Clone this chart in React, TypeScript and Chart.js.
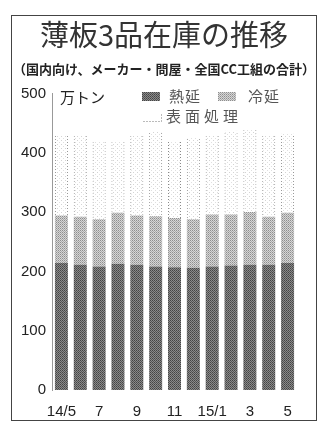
import React, { useEffect, useRef } from "react";
import { Chart, registerables } from "chart.js";

Chart.register(...registerables);

// ---- data ----
const categories = ["14/5", "6", "7", "8", "9", "10", "11", "12", "15/1", "2", "3", "4", "5"];
const xTickLabels = ["14/5", "", "7", "", "9", "", "11", "", "15/1", "", "3", "", "5"];
const hotRolled = [214, 211, 208, 213, 211, 208, 207, 206, 208, 210, 211, 211, 214];
const coldRolled = [80, 81, 80, 86, 83, 85, 83, 82, 88, 86, 89, 81, 85];
const surfaceTreated = [134, 138, 130, 121, 136, 142, 130, 137, 134, 141, 140, 138, 133];
const yTickValues = [0, 100, 200, 300, 400, 500];
const seriesNames = ["熱延", "冷延", "表面処理"];
const titleText = "薄板3品在庫の推移";
const subtitleText = "（国内向け、メーカー・問屋・全国CC工組の合計）";
const unitText = "万トン";

const JP = '"Noto Sans CJK JP", "Noto Sans", sans-serif';
const NUM = '"Liberation Sans", Arial, sans-serif';

function makePattern(size: number, bg: string, dots: [number, number, string][]) {
  const c = document.createElement("canvas");
  c.width = size;
  c.height = size;
  const x = c.getContext("2d")!;
  x.fillStyle = bg;
  x.fillRect(0, 0, size, size);
  for (const [px, py, col] of dots) {
    x.fillStyle = col;
    x.fillRect(px, py, 1, 1);
  }
  const tmp = document.createElement("canvas").getContext("2d")!;
  return tmp.createPattern(c, "repeat")!;
}

export default function App() {
  const ref = useRef<HTMLCanvasElement | null>(null);

  useEffect(() => {
    if (!ref.current) return;
    const hotPat = makePattern(2, "#8a8a8a", [[0, 0, "#444444"], [1, 1, "#555555"]]);
    const coldPat = makePattern(2, "#d6d6d6", [[0, 0, "#8e8e8e"], [1, 1, "#ababab"]]);
    const surfPat = makePattern(4, "#ffffff", [[1, 0, "#d4d4d4"], [3, 2, "#e0e0e0"]]);
    const surfBorderDots = makePattern(3, "rgba(255,255,255,0)", [
      [0, 0, "#888888"], [1, 0, "#888888"], [2, 0, "#888888"],
    ]);

    const legendPlugin = {
      id: "customLegend",
      afterDraw(chart: any) {
        const ctx = chart.ctx as CanvasRenderingContext2D;
        const ds = chart.data.datasets;
        ctx.save();
        ctx.font = `15px ${JP}`;
        ctx.fillStyle = "#222";
        ctx.textBaseline = "middle";
        ctx.textAlign = "left";
        ctx.fillText(unitText, 48, 81);
        const items = [
          { i: 0, sx: 130, sy: 76, tx: 157, ty: 80, ls: "1px" },
          { i: 1, sx: 206, sy: 76, tx: 236, ty: 80, ls: "1px" },
          { i: 2, sx: 131, sy: 96, tx: 154, ty: 100, ls: "4px" },
        ];
        for (const it of items) {
          if (it.i < 2) {
            ctx.fillStyle = ds[it.i].backgroundColor;
            ctx.fillRect(it.sx, it.sy, 18, 9);
          } else {
            ctx.strokeStyle = "#777";
            ctx.lineWidth = 1;
            ctx.setLineDash([1, 2]);
            ctx.beginPath();
            ctx.moveTo(it.sx + 0.5, it.sy + 9.5);
            ctx.lineTo(it.sx + 18.5, it.sy + 9.5);
            ctx.lineTo(it.sx + 18.5, it.sy + 0.5);
            ctx.stroke();
            ctx.setLineDash([]);
          }
          (ctx as any).letterSpacing = it.ls;
          ctx.fillStyle = "#555";
          ctx.font = `15px ${JP}`;
          ctx.fillText(seriesNames[it.i], it.tx, it.ty);
        }
        ctx.restore();
      },
    };

    const chart = new Chart(ref.current, {
      type: "bar",
      data: {
        labels: categories,
        datasets: [
          {
            label: seriesNames[0],
            data: hotRolled,
            backgroundColor: hotPat as any,
            borderWidth: 0,
            barPercentage: 0.69,
            categoryPercentage: 1,
          },
          {
            label: seriesNames[1],
            data: coldRolled,
            backgroundColor: coldPat as any,
            borderWidth: 0,
            barPercentage: 0.69,
            categoryPercentage: 1,
          },
          {
            label: seriesNames[2],
            data: surfaceTreated,
            backgroundColor: surfPat as any,
            borderColor: surfBorderDots as any,
            borderWidth: { top: 0, left: 1, right: 1, bottom: 0 } as any,
            borderSkipped: false,
            barPercentage: 0.69,
            categoryPercentage: 1,
          },
        ],
      },
      options: {
        responsive: false,
        animation: false,
        layout: { padding: { top: 2, right: 0, bottom: 2, left: 0 } },
        plugins: {
          legend: { display: false },
          tooltip: { enabled: false },
          title: {
            display: true,
            text: titleText,
            color: "#333",
            font: { family: JP, size: 29, weight: "normal" as any, lineHeight: 1.2 },
            padding: { top: 0, bottom: 8 },
          },
          subtitle: {
            display: true,
            text: subtitleText,
            color: "#222",
            font: { family: JP, size: 13, weight: "bold" as any, lineHeight: 1.2 },
            padding: { top: 0, bottom: 17 },
          },
        },
        scales: {
          x: {
            stacked: true,
            grid: { display: false },
            border: { display: false },
            ticks: {
              autoSkip: false,
              maxRotation: 0,
              padding: 5,
              color: "#222",
              font: { family: NUM, size: 15 },
              callback: (_v: any, i: number) => xTickLabels[i],
            },
            afterFit: (s: any) => {
              s.height = 28;
            },
          },
          y: {
            stacked: true,
            min: 0,
            max: 500,
            grid: { display: false, drawTicks: false },
            border: { display: true, dash: [2, 2], color: "#999", width: 1 },
            afterBuildTicks: (s: any) => {
              s.ticks = yTickValues.map((v) => ({ value: v }));
            },
            ticks: {
              padding: 6,
              color: "#222",
              font: { family: NUM, size: 15 },
            },
            afterFit: (s: any) => {
              s.width = 40;
            },
          },
          yRightSpacer: {
            position: "right",
            display: true,
            min: 0,
            max: 500,
            grid: { display: false, drawTicks: false },
            border: { display: false },
            ticks: { display: false },
            afterFit: (s: any) => {
              s.width = 19;
            },
          },
        },
      },
      plugins: [legendPlugin],
    });
    return () => chart.destroy();
  }, []);

  return (
    <div
      style={{
        position: "absolute",
        left: 11,
        top: 15,
        width: 306,
        height: 406,
        boxSizing: "border-box",
        border: "1px solid #444",
        background: "#fff",
      }}
    >
      <canvas ref={ref} width={304} height={404} style={{ display: "block" }} />
    </div>
  );
}
